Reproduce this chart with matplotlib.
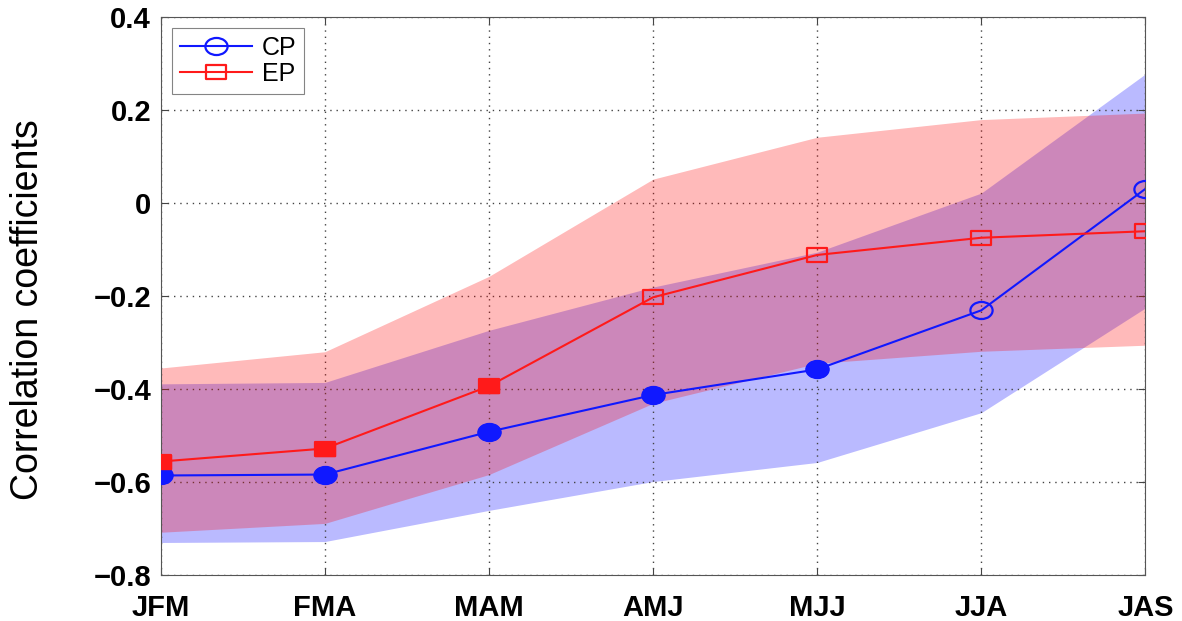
import numpy as np
import matplotlib
matplotlib.use("Agg")
from matplotlib import pyplot as plt
from matplotlib import font_manager
from matplotlib.path import Path
from matplotlib.transforms import Affine2D

seasons = ["JFM", "FMA", "MAM", "AMJ", "MJJ", "JJA", "JAS"]

# correlation of each index with the seasonal series
cp_corr = [-0.586, -0.584, -0.492, -0.413, -0.358, -0.231, 0.030]
ep_corr = [-0.556, -0.528, -0.394, -0.203, -0.112, -0.075, -0.061]

# spread (min / max) of the correlations
cp_low = [-0.730, -0.728, -0.661, -0.599, -0.558, -0.451, -0.226]
cp_high = [-0.389, -0.386, -0.274, -0.181, -0.106, 0.021, 0.277]
ep_low = [-0.708, -0.689, -0.584, -0.431, -0.345, -0.319, -0.306]
ep_high = [-0.355, -0.320, -0.158, 0.051, 0.141, 0.179, 0.193]

# which seasons are significant (filled markers)
cp_sig = [True, True, True, True, True, False, False]
ep_sig = [True, True, True, False, False, False, False]

# slightly flattened markers
ellipse = Path.unit_circle().transformed(Affine2D().scale(1.3, 1.0))
rect = Path.unit_rectangle().transformed(Affine2D().translate(-0.5, -0.5).scale(1.45, 1.0))


def plot_series(ax, x, y, sig, color, marker, ms, label):
    ax.plot(x, y, "-", color=color, lw=1.5, marker=marker, ms=ms,
            mfc="none", mec=color, mew=1.6, label=label, zorder=4)
    xs = [x[i] for i in range(len(x)) if sig[i]]
    ys = [y[i] for i in range(len(y)) if sig[i]]
    ax.plot(xs, ys, ls="none", marker=marker, ms=ms, mfc=color, mec=color, zorder=5)


def plot_result():
    plt.rcParams["font.family"] = ["Liberation Sans", "DejaVu Sans"]
    fig = plt.figure(figsize=(11.82, 6.21), dpi=100)
    ax = fig.add_axes([0.136, 0.074, 0.833, 0.899])

    x = np.arange(len(seasons))
    ax.fill_between(x, cp_low, cp_high, color=(0, 0, 1), alpha=0.27, lw=0, zorder=1)
    ax.fill_between(x, ep_low, ep_high, color=(1, 0, 0), alpha=0.27, lw=0, zorder=2)

    plot_series(ax, x, cp_corr, cp_sig, "#1018ff", ellipse, 16, "CP")
    plot_series(ax, x, ep_corr, ep_sig, "#ff1a1a", rect, 15, "EP")

    ax.set_xlim(0, 6)
    ax.set_ylim(-0.8, 0.4)
    ax.set_xticks(x)
    ax.set_xticklabels(seasons)
    ax.set_yticks(np.arange(-0.8, 0.41, 0.2))
    ax.set_yticklabels(["\u22120.8", "\u22120.6", "\u22120.4", "\u22120.2", "0", "0.2", "0.4"])
    for lab in ax.get_xticklabels() + ax.get_yticklabels():
        lab.set_fontsize(21)
        lab.set_fontweight("bold")
    ax.tick_params(axis="y", pad=7)
    ax.tick_params(axis="x", pad=14)
    ax.tick_params(direction="in", length=5, width=0.8, color="#444444",
                   top=True, right=True)
    ax.grid(True, ls=(0, (1, 3.5)), color="#444444", lw=1.0)
    for sp in ax.spines.values():
        sp.set_color("#555555")
        sp.set_linewidth(0.8)

    names = {f.name for f in font_manager.fontManager.ttflist}
    if "Liberation Sans Narrow" in names:
        ax.set_ylabel("Correlation coefficients", fontsize=33,
                      family=["Liberation Sans Narrow", "DejaVu Sans"], labelpad=28)
    else:
        ax.set_ylabel("Correlation coefficients", fontsize=27, labelpad=35)
    ax.yaxis.set_label_coords(-0.117, 0.475)

    leg = ax.legend(loc="upper left", fontsize=18, frameon=True, fancybox=False,
                    borderaxespad=0.45, handlelength=2.9, labelspacing=0.1,
                    borderpad=0.3, handletextpad=0.4)
    leg.get_frame().set_edgecolor("#666666")
    leg.get_frame().set_linewidth(0.8)

    fig.savefig("out.png", dpi=100)


if __name__ == "__main__":
    plot_result()
